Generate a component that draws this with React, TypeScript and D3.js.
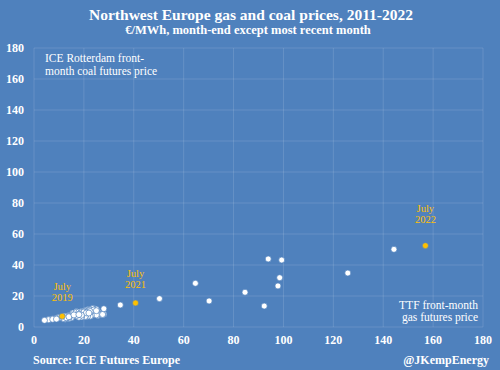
import * as d3 from 'd3';

// TTF gas (x) vs ICE Rotterdam coal (y), €/MWh, month-end 2011 - mid 2021
const gasHist = [
  22, 23, 24, 22.5, 23.5, 22, 21.5, 22, 23, 24, 24.5, 23,
  24.5, 25, 25.5, 24, 24, 25, 26, 26.5, 27, 27.5, 27, 27.5,
  27.5, 28, 27, 26.5, 26, 26, 25.5, 27, 27.5, 27.5, 27, 27.5,
  25, 23, 22, 20, 18, 18.5, 17, 20, 22, 21, 22.5, 21,
  21, 21.5, 20.5, 20, 20.5, 20, 20.5, 19, 19, 18, 15, 14,
  12.5, 12, 12.5, 12.5, 13, 14, 13.5, 12.5, 14, 16, 17, 17.5,
  18, 17, 16, 15.5, 15.5, 15.5, 15.5, 17, 18, 19, 20, 20.5,
  20, 21, 19, 20, 22, 22, 22.5, 25, 28, 25, 24, 22.5,
  21, 18, 15, 14, 12, 10, 10, 11, 13, 14, 12.5,
  10, 9, 7.5, 6, 5.9, 4.2, 7.5, 9, 12, 13, 14, 17,
  19, 16, 18, 22, 25, 34.6,
];
const coalHist = [
  11.5, 11.8, 12.0, 11.6, 11.9, 11.4, 11.2, 10.8, 10.9, 10.6, 10.2, 10.0,
  9.8, 9.6, 9.8, 9.4, 8.8, 8.7, 8.9, 9.0, 9.2, 9.4, 9.1, 9.0,
  8.6, 8.3, 8.1, 7.9, 7.7, 7.6, 7.5, 7.8, 8.0, 7.9, 8.2, 8.1,
  7.8, 7.6, 7.4, 7.3, 7.0, 7.1, 7.2, 7.4, 7.3, 7.1, 7.0, 6.8,
  6.9, 7.0, 7.0, 7.2, 7.0, 6.9, 6.8, 6.5, 6.4, 6.3, 6.0, 5.5,
  5.0, 5.1, 5.3, 5.5, 5.8, 6.3, 6.5, 7.0, 7.5, 9.0, 10.0, 9.2,
  9.0, 8.5, 8.2, 8.4, 8.6, 8.5, 9.0, 9.5, 9.7, 10.0, 10.4, 10.6,
  10.0, 9.8, 9.3, 9.6, 10.5, 10.8, 10.9, 11.3, 11.8, 11.5, 11.0, 10.0,
  9.1, 8.3, 7.9, 7.5, 7.1, 6.5, 6.3, 6.5, 6.7, 6.9, 6.7,
  6.0, 5.6, 5.4, 5.0, 4.7, 4.3, 5.0, 5.1, 5.4, 5.9, 6.6, 7.3,
  7.6, 7.8, 8.0, 9.0, 10.5, 14.2,
];

// Aug 2021 onwards
const gasRecent = [50.3, 98.5, 93.9, 84.6, 70.2, 64.7, 99.3, 125.8, 97.8, 92.3, 144.3];
const coalRecent = [18.3, 31.8, 43.9, 22.4, 16.8, 28.2, 43.2, 34.8, 26.5, 13.5, 50.1];

// highlighted Julys
const julyLabels = ['July 2019', 'July 2021', 'July 2022'];
const julyGas = [11.3, 40.7, 156.9];
const julyCoal = [6.9, 15.5, 52.5];

const ticks = [0, 20, 40, 60, 80, 100, 120, 140, 160, 180];

const W = 500;
const H = 370;
const margin = { top: 48, right: 17, bottom: 43, left: 34 };
const BG = '#4f81bd';
const GOLD = '#ffc000';
const FONT = '"Liberation Serif", "DejaVu Serif", serif';

export default function App() {
  const x = d3.scaleLinear().domain([0, 180]).range([margin.left, W - margin.right]);
  const y = d3.scaleLinear().domain([0, 180]).range([H - margin.bottom, margin.top]);

  const hist = gasHist.map((g, i) => ({ g, c: coalHist[i] }));
  const recent = gasRecent.map((g, i) => ({ g, c: coalRecent[i] }));
  const julys = julyGas.map((g, i) => ({ g, c: julyCoal[i], label: julyLabels[i] }));
  const all = [...hist, ...recent];

  return (
    <svg
      width={W}
      height={H}
      style={{ position: 'absolute', left: 0, top: 0, fontFamily: FONT }}
    >
      <rect width={W} height={H} fill={BG} />

      <text x={251} y={20} textAnchor="middle" fill="#fff" fontSize={15.5} fontWeight="bold">
        Northwest Europe gas and coal prices, 2011-2022
      </text>
      <text x={248} y={34} textAnchor="middle" fill="#fff" fontSize={12.5} fontWeight="bold">
        €/MWh, month-end except most recent month
      </text>

      {/* grid */}
      <g stroke="#ffffff" strokeOpacity={0.13} strokeWidth={1}>
        {ticks.map(t => (
          <line key={'v' + t} x1={x(t)} x2={x(t)} y1={y(0)} y2={y(180)} />
        ))}
        {ticks.map(t => (
          <line key={'h' + t} x1={x(0)} x2={x(180)} y1={y(t)} y2={y(t)} />
        ))}
      </g>

      {/* axis labels */}
      <g fill="#fff" fontSize={12} fontWeight="bold">
        {ticks.map(t => (
          <text key={'yl' + t} x={x(0) - 10} y={y(t) + 4} textAnchor="end">
            {t}
          </text>
        ))}
        {ticks.map(t => (
          <text key={'xl' + t} x={x(t)} y={344} textAnchor="middle">
            {t}
          </text>
        ))}
      </g>

      {/* points */}
      <g>
        {all.map((d, i) => (
          <circle
            key={i}
            cx={x(d.g)}
            cy={y(d.c)}
            r={3}
            fill="#fff"
            stroke={BG}
            strokeWidth={0.7}
          />
        ))}
        {julys.map((d, i) => (
          <circle key={'j' + i} cx={x(d.g)} cy={y(d.c)} r={3} fill={GOLD} stroke={BG} strokeWidth={0.6} />
        ))}
      </g>

      {/* July annotations */}
      <g fill={GOLD} fontSize={10.5} textAnchor="middle">
        {julys.map((d, i) => {
          const [m, yr] = d.label.split(' ');
          const top = y(d.c) - 26 - (i === 2 ? 8 : 0);
          return (
            <g key={'jl' + i}>
              <text x={x(d.g)} y={top}>{m}</text>
              <text x={x(d.g)} y={top + 11}>{yr}</text>
            </g>
          );
        })}
      </g>

      {/* axis titles */}
      <g fill="#fff" fontSize={11.5}>
        <text x={45} y={62}>ICE Rotterdam front-</text>
        <text x={45} y={75}>month coal futures price</text>
        <text x={478} y={309} textAnchor="end">TTF front-month</text>
        <text x={478} y={321} textAnchor="end">gas futures price</text>
      </g>

      <g fill="#fff" fontSize={12} fontWeight="bold">
        <text x={33} y={364}>Source:  ICE Futures Europe</text>
        <text x={489} y={364} textAnchor="end">@JKempEnergy</text>
      </g>
    </svg>
  );
}
